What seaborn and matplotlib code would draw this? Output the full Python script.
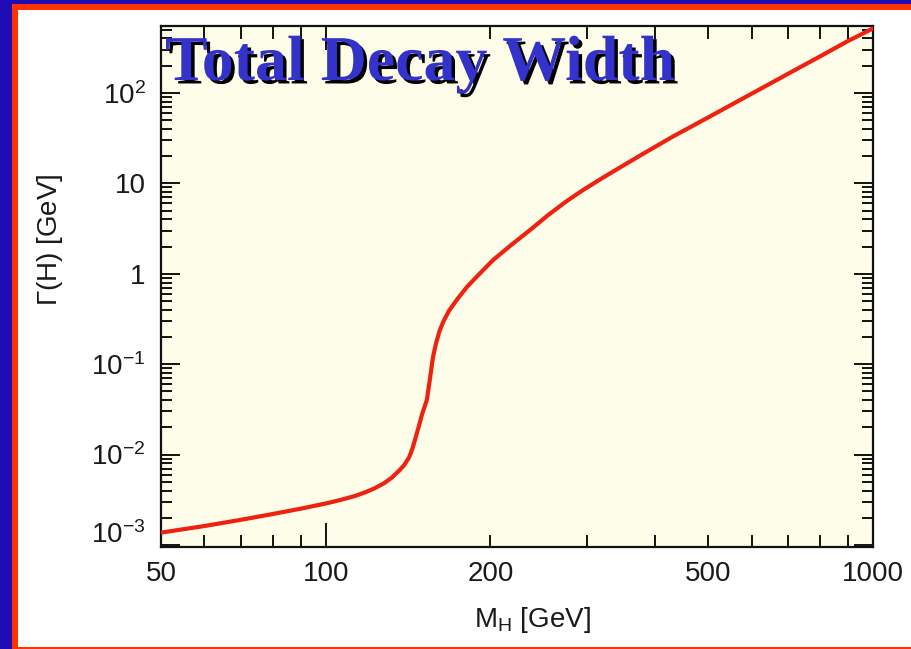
import matplotlib
matplotlib.use("Agg")
import matplotlib.pyplot as plt
import matplotlib.patheffects as pe
import matplotlib.transforms as mtransforms
from matplotlib.patches import Rectangle
from matplotlib.ticker import FixedLocator, FixedFormatter, NullFormatter
import pandas as pd
import seaborn as sns

# Standard Model Higgs total width vs. mass
higgs_mass = [50, 60, 70, 80, 90, 100, 106, 113, 118, 123, 128, 132, 136, 139,
              142, 144, 146, 148.5, 150, 153, 155, 157, 159, 161.4, 164, 168,
              174, 181, 190, 202, 218, 236, 255, 275, 295, 316, 345, 379, 430,
              500, 560, 638, 715, 797, 900, 1000]
total_width = [1.37e-3, 1.62e-3, 1.9e-3, 2.2e-3, 2.52e-3, 2.88e-3, 3.13e-3, 3.48e-3,
               3.82e-3, 4.25e-3, 4.85e-3, 5.55e-3, 6.6e-3, 7.6e-3,
               9.3e-3, 1.16e-2, 1.55e-2, 2.23e-2, 2.8e-2, 4.0e-2, 6.8e-2, 0.119,
               0.169, 0.232, 0.295, 0.39, 0.525, 0.71, 0.967, 1.41, 2.07, 3.03,
               4.46, 6.3, 8.4, 10.9, 15.0, 21.0, 32.7, 53.6, 78, 120, 175, 250,
               375, 516]

y_major = [1e-3, 1e-2, 1e-1, 1, 10, 100]
y_major_labels = [r"$10^{-3}$", r"$10^{-2}$", r"$10^{-1}$", "1", "10", r"$10^{2}$"]
x_labelled = [50, 100, 200, 500, 1000]

sns.set_theme(style="ticks")
plt.rcParams["font.family"] = ["Liberation Sans", "DejaVu Sans"]
plt.rcParams["mathtext.fontset"] = "custom"
plt.rcParams["mathtext.rm"] = "Liberation Sans"
plt.rcParams["mathtext.it"] = "Liberation Sans"

fig = plt.figure(figsize=(9.12, 6.49), dpi=100)
fig.patch.set_facecolor("white")

W, H = 912.0, 649.0
blue = "#1e0cb4"
red = "#ff3300"
# frame strips (pixel geometry converted to figure fractions)
fig.patches.append(Rectangle((0, 0), 12 / W, 1, transform=fig.transFigure,
                             facecolor=blue, edgecolor="none", zorder=0))
fig.patches.append(Rectangle((0, 1 - 4 / H), 1, 4 / H, transform=fig.transFigure,
                             facecolor=blue, edgecolor="none", zorder=0))
fig.patches.append(Rectangle((12 / W, 0), 6 / W, 1 - 4 / H, transform=fig.transFigure,
                             facecolor=red, edgecolor="none", zorder=0))
fig.patches.append(Rectangle((12 / W, 1 - 10 / H), 1, 6 / H, transform=fig.transFigure,
                             facecolor=red, edgecolor="none", zorder=0))
fig.patches.append(Rectangle((18 / W, 0), 1, 2 / H, transform=fig.transFigure,
                             facecolor=red, edgecolor="none", zorder=0))

ax = fig.add_axes([161 / W, 1 - 547 / H, (873 - 161) / W, (547 - 26) / H])
ax.set_facecolor("#fefde9")

df = pd.DataFrame({"mass": higgs_mass, "width": total_width})
sns.lineplot(data=df, x="mass", y="width", ax=ax, color="#ee2211",
             linewidth=3.0, zorder=3)
ax.lines[0].set_solid_joinstyle("round")

ax.set_xscale("log")
ax.set_yscale("log")
ax.set_xlim(50, 1000)
ax.set_ylim(0.95e-3, 10 ** 2.74)

# y axis ticks
ax.yaxis.set_major_locator(FixedLocator(y_major))
ax.yaxis.set_major_formatter(FixedFormatter(y_major_labels))
y_minor = [m * d for d in [1e-3, 1e-2, 1e-1, 1, 10, 100] for m in range(2, 10)]
ax.yaxis.set_minor_locator(FixedLocator(y_minor))
ax.yaxis.set_minor_formatter(NullFormatter())

# x axis ticks: long marks at decades, short marks elsewhere
ax.xaxis.set_major_locator(FixedLocator([100, 1000]))
ax.xaxis.set_major_formatter(FixedFormatter(["100", "1000"]))
x_minor = [50, 60, 70, 80, 90, 200, 300, 400, 500, 600, 700, 800, 900]
ax.xaxis.set_minor_locator(FixedLocator(x_minor))
ax.xaxis.set_minor_formatter(FixedFormatter(
    [str(v) if v in x_labelled else "" for v in x_minor]))

for axis in ("x", "y"):
    ax.tick_params(axis=axis, which="both", direction="in", top=True, right=True,
                   color="#111111", width=1.4, labelsize=20, labelcolor="#1a1a1a")
ax.tick_params(axis="y", which="major", length=14, pad=11)
ax.tick_params(axis="y", which="minor", length=8)
ax.tick_params(axis="x", which="major", length=17, pad=10)
ax.tick_params(axis="x", which="minor", length=9, pad=10)

# lift the bottom-most y label clear of the x axis
lowest = ax.yaxis.get_major_ticks()[0].label1
lowest.set_transform(lowest.get_transform() +
                     mtransforms.ScaledTranslation(0, 0.13, fig.dpi_scale_trans))

for s in ax.spines.values():
    s.set_visible(True)
    s.set_linewidth(1.6)
    s.set_color("#111111")

ax.set_xlabel(r"$\mathregular{M_H}$ [GeV]", fontsize=20, color="#1a1a1a")
ax.set_ylabel(r"$\Gamma$(H) [GeV]", fontsize=20, color="#1a1a1a")
ax.xaxis.set_label_coords(0.522, -0.112)
ax.yaxis.set_label_coords(-0.135, 0.59)

fig.text(165 / W, 1 - 80 / H, "Total Decay Width", fontsize=46,
         family=["Liberation Serif", "DejaVu Serif"], fontweight="bold",
         color="#3333cc", ha="left", va="baseline", zorder=10,
         path_effects=[pe.withSimplePatchShadow(offset=(2.5, -2.5),
                                                shadow_rgbFace="black", alpha=1.0)])

fig.savefig("out.png", dpi=100, facecolor=fig.get_facecolor())
